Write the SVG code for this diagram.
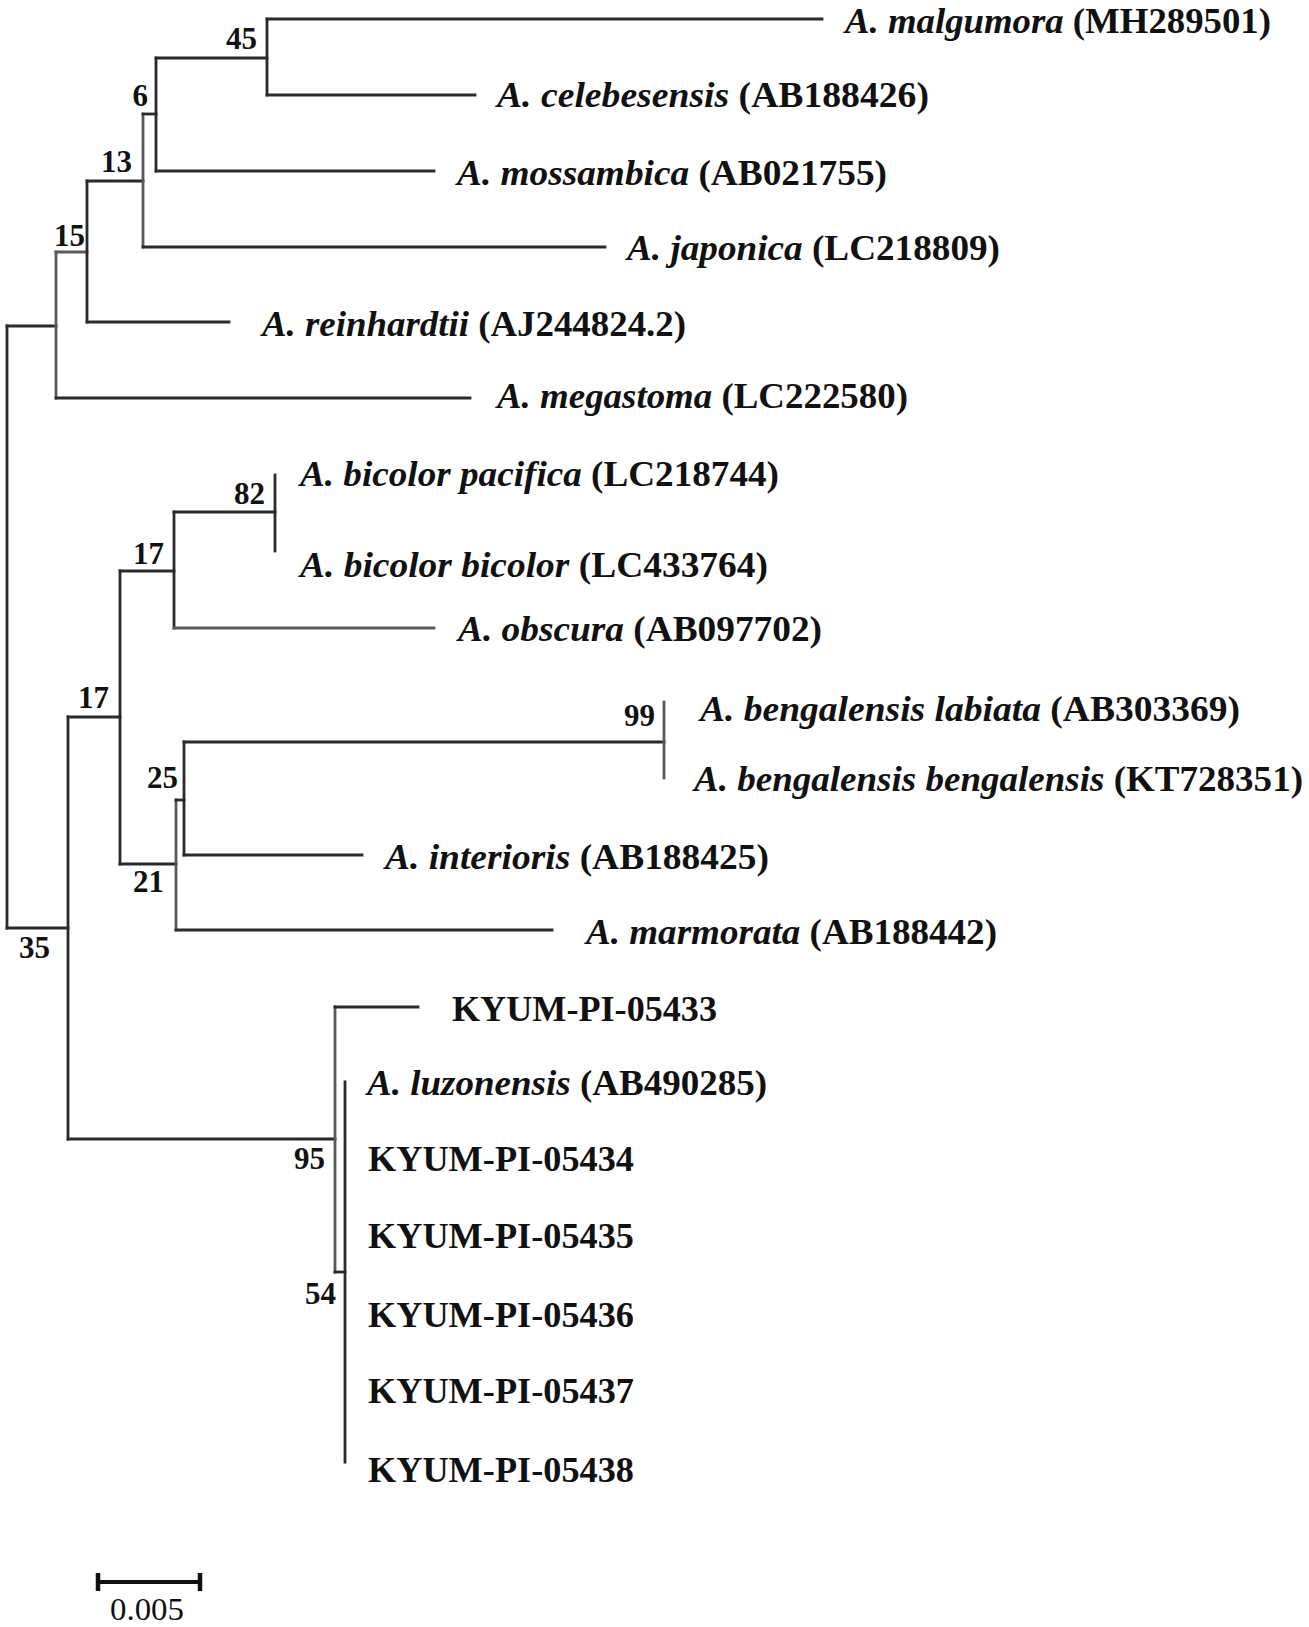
<svg xmlns="http://www.w3.org/2000/svg" width="1309" height="1627" viewBox="0 0 1309 1627">
  <style>
    .br { stroke: #2a2a2a; stroke-width: 2.8; fill: none; stroke-linecap: square; }
    .lt { stroke: #5a5a5a; }
    .tx { font-family: "Liberation Serif", "Times New Roman", serif; font-size: 35px; font-weight: bold; fill: #111; }
    .it { font-style: italic; }
    .bs { font-family: "Liberation Serif", "Times New Roman", serif; font-size: 31px; font-weight: bold; fill: #111; text-anchor: end; }
    .sc { font-family: "Liberation Serif", "Times New Roman", serif; font-size: 32px; fill: #111; }
  </style>
  <rect width="1309" height="1627" fill="#ffffff"/>

  <g id="connectors">
    <!-- upper clade -->
    <path class="br" d="M7 326 V928"/>
    <path class="br" d="M7 326 H56"/>
    <path class="br lt" d="M56 252 V398"/>
    <path class="br lt" d="M56 252 H87"/>
    <path class="br" d="M56 398 H470"/>
    <path class="br" d="M87 181 V322"/>
    <path class="br" d="M87 181 H143"/>
    <path class="br" d="M87 322 H229"/>
    <path class="br lt" d="M143 114 V247"/>
    <path class="br" d="M143 114 H156"/>
    <path class="br" d="M143 247 H605"/>
    <path class="br" d="M156 58 V171"/>
    <path class="br" d="M156 58 H267"/>
    <path class="br" d="M156 171 H434"/>
    <path class="br" d="M267 19 V95"/>
    <path class="br" d="M267 19 H822"/>
    <path class="br" d="M267 95 H475"/>
    <!-- lower clades -->
    <path class="br" d="M7 928 H68"/>
    <path class="br" d="M68 717 V1139"/>
    <path class="br" d="M68 717 H120"/>
    <path class="br" d="M120 571 V864"/>
    <path class="br" d="M120 571 H174"/>
    <path class="br" d="M174 512 V628"/>
    <path class="br" d="M174 512 H275"/>
    <path class="br" d="M275 475 V551"/>
    <path class="br lt" d="M174 628 H434"/>
    <path class="br" d="M120 864 H176"/>
    <path class="br lt" d="M176 800 V930"/>
    <path class="br" d="M176 800 H184"/>
    <path class="br" d="M184 742 V855"/>
    <path class="br" d="M184 742 H664"/>
    <path class="br lt" d="M664 702 V778"/>
    <path class="br" d="M184 855 H362"/>
    <path class="br" d="M176 930 H552"/>
    <path class="br" d="M68 1139 H335"/>
    <path class="br lt" d="M335 1007 V1272"/>
    <path class="br" d="M335 1007 H418"/>
    <path class="br" d="M335 1272 H345"/>
    <path class="br" d="M345 1082 V1462"/>
  </g>

  <g id="taxon-malgumora"><text class="tx" x="845" y="33" textLength="426" lengthAdjust="spacingAndGlyphs"><tspan class="it">A. malgumora</tspan> (MH289501)</text></g>
  <g id="taxon-celebesensis"><text class="tx" x="497" y="107" textLength="432" lengthAdjust="spacingAndGlyphs"><tspan class="it">A. celebesensis</tspan> (AB188426)</text></g>
  <g id="taxon-mossambica"><text class="tx" x="457" y="185" textLength="430" lengthAdjust="spacingAndGlyphs"><tspan class="it">A. mossambica</tspan> (AB021755)</text></g>
  <g id="taxon-japonica"><text class="tx" x="627" y="260" textLength="373" lengthAdjust="spacingAndGlyphs"><tspan class="it">A. japonica</tspan> (LC218809)</text></g>
  <g id="taxon-reinhardtii"><text class="tx" x="262" y="336" textLength="424" lengthAdjust="spacingAndGlyphs"><tspan class="it">A. reinhardtii</tspan> (AJ244824.2)</text></g>
  <g id="taxon-megastoma"><text class="tx" x="497" y="408" textLength="411" lengthAdjust="spacingAndGlyphs"><tspan class="it">A. megastoma</tspan> (LC222580)</text></g>
  <g id="taxon-bicolor-pacifica"><text class="tx" x="300" y="486" textLength="479" lengthAdjust="spacingAndGlyphs"><tspan class="it">A. bicolor pacifica</tspan> (LC218744)</text></g>
  <g id="taxon-bicolor-bicolor"><text class="tx" x="300" y="577" textLength="468" lengthAdjust="spacingAndGlyphs"><tspan class="it">A. bicolor bicolor</tspan> (LC433764)</text></g>
  <g id="taxon-obscura"><text class="tx" x="458" y="641" textLength="364" lengthAdjust="spacingAndGlyphs"><tspan class="it">A. obscura</tspan> (AB097702)</text></g>
  <g id="taxon-bengalensis-labiata"><text class="tx" x="700" y="721" textLength="540" lengthAdjust="spacingAndGlyphs"><tspan class="it">A. bengalensis labiata</tspan> (AB303369)</text></g>
  <g id="taxon-bengalensis-bengalensis"><text class="tx" x="694" y="791" textLength="609" lengthAdjust="spacingAndGlyphs"><tspan class="it">A. bengalensis bengalensis</tspan> (KT728351)</text></g>
  <g id="taxon-interioris"><text class="tx" x="385" y="869" textLength="384" lengthAdjust="spacingAndGlyphs"><tspan class="it">A. interioris</tspan> (AB188425)</text></g>
  <g id="taxon-marmorata"><text class="tx" x="586" y="944" textLength="411" lengthAdjust="spacingAndGlyphs"><tspan class="it">A. marmorata</tspan> (AB188442)</text></g>
  <g id="taxon-KYUM-PI-05433"><text class="tx" x="452" y="1021" textLength="265" lengthAdjust="spacingAndGlyphs">KYUM-PI-05433</text></g>
  <g id="taxon-luzonensis"><text class="tx" x="367" y="1095" textLength="400" lengthAdjust="spacingAndGlyphs"><tspan class="it">A. luzonensis</tspan> (AB490285)</text></g>
  <g id="taxon-KYUM-PI-05434"><text class="tx" x="368" y="1171" textLength="266" lengthAdjust="spacingAndGlyphs">KYUM-PI-05434</text></g>
  <g id="taxon-KYUM-PI-05435"><text class="tx" x="368" y="1248" textLength="266" lengthAdjust="spacingAndGlyphs">KYUM-PI-05435</text></g>
  <g id="taxon-KYUM-PI-05436"><text class="tx" x="368" y="1327" textLength="266" lengthAdjust="spacingAndGlyphs">KYUM-PI-05436</text></g>
  <g id="taxon-KYUM-PI-05437"><text class="tx" x="368" y="1403" textLength="266" lengthAdjust="spacingAndGlyphs">KYUM-PI-05437</text></g>
  <g id="taxon-KYUM-PI-05438"><text class="tx" x="368" y="1482" textLength="266" lengthAdjust="spacingAndGlyphs">KYUM-PI-05438</text></g>

  <g id="bootstrap-values">
    <text class="bs" x="257" y="49">45</text>
    <text class="bs" x="148" y="106">6</text>
    <text class="bs" x="132" y="172">13</text>
    <text class="bs" x="85" y="246">15</text>
    <text class="bs" x="265" y="504">82</text>
    <text class="bs" x="164" y="564">17</text>
    <text class="bs" x="109" y="708">17</text>
    <text class="bs" x="655" y="726">99</text>
    <text class="bs" x="178" y="788">25</text>
    <text class="bs" x="164" y="892">21</text>
    <text class="bs" x="50" y="958">35</text>
    <text class="bs" x="325" y="1169">95</text>
    <text class="bs" x="336" y="1304">54</text>
  </g>

  <g id="scale-bar">
    <path d="M97 1582 H201" stroke="#111" stroke-width="4"/>
    <path d="M98 1573 V1591 M200 1573 V1591" stroke="#111" stroke-width="4.5"/>
    <text class="sc" x="110" y="1620" textLength="74" lengthAdjust="spacingAndGlyphs">0.005</text>
  </g>
</svg>
